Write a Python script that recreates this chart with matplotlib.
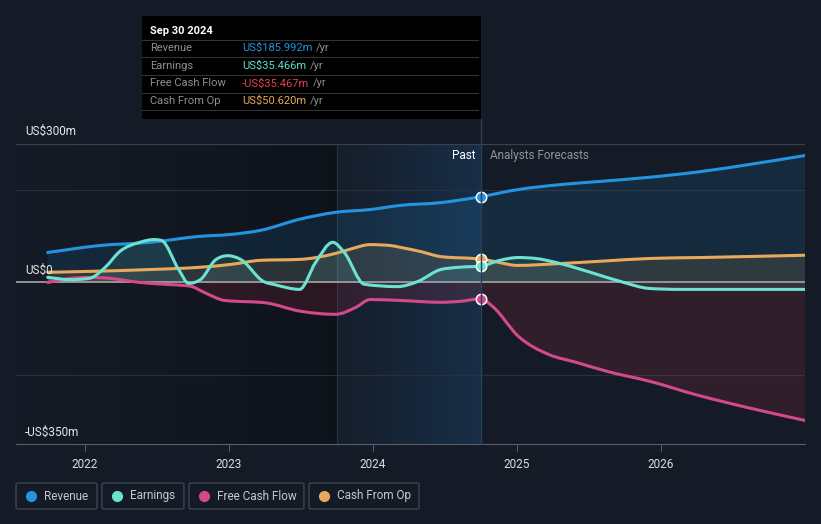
import numpy as np
import matplotlib.pyplot as plt
from matplotlib.patches import FancyBboxPatch, Rectangle, PathPatch
from matplotlib.path import Path
from matplotlib.lines import Line2D

plt.rcParams['font.family'] = ['Roboto', 'DejaVu Sans']

# data (US$m, dates as decimal years)
rev_t = [2021.74, 2022.10, 2022.45, 2022.80, 2023.01, 2023.22, 2023.49, 2023.74, 2023.98,
         2024.19, 2024.47, 2024.75, 2025.00, 2025.30, 2025.58, 2025.92, 2026.27, 2026.62, 2027.00]
rev_v = [65, 80, 87, 100, 104, 113, 137, 152, 158, 167, 173, 186, 201, 212, 219, 228, 240, 256, 275]

earn_t = [2021.74, 2021.90, 2022.03, 2022.14, 2022.24, 2022.38, 2022.48, 2022.53, 2022.65, 2022.72,
          2022.80, 2022.91, 2022.99, 2023.08, 2023.24, 2023.32, 2023.49, 2023.60, 2023.72, 2023.80,
          2023.94, 2024.17, 2024.31, 2024.47, 2024.60, 2024.75, 2024.88, 2025.01, 2025.13, 2025.30,
          2025.51, 2025.72, 2025.92, 2026.13, 2027.00]
earn_v = [11, 6, 9, 33, 67, 87, 93, 91, 28, -2,
          6, 50, 58, 50, 2, -5, -15, 43, 87, 65,
          -4, -9, 2, 28, 33, 35.5, 48, 54, 52, 41,
          22, 2, -13, -15, -15]

fcf_t = [2021.74, 2021.90, 2022.03, 2022.17, 2022.38, 2022.56, 2022.73, 2022.83, 2022.97, 2023.25,
         2023.49, 2023.74, 2023.88, 2023.98, 2024.19, 2024.47, 2024.60, 2024.75, 2024.83, 2025.01,
         2025.22, 2025.41, 2025.63, 2025.92, 2026.24, 2026.60, 2027.00]
fcf_v = [0, 9, 11, 9, 0, -4, -8, -22, -39, -44,
         -62, -69, -54, -37, -39, -43, -41, -35.5, -52, -117,
         -156, -173, -193, -214, -243, -271, -299]

cfo_t = [2021.74, 2022.03, 2022.45, 2022.80, 2023.01, 2023.22, 2023.49, 2023.74, 2023.84, 2023.98,
         2024.12, 2024.19, 2024.33, 2024.47, 2024.75, 2024.88, 2025.00, 2025.30, 2025.58, 2025.92,
         2026.27, 2027.00]
cfo_v = [22, 24, 28, 33, 39, 48, 50, 63, 72, 82,
         80, 76, 67, 56, 50.6, 43, 37, 41, 46, 52,
         54, 59]

years = [2022, 2023, 2024, 2025, 2026]
now = 2024.75

BG = '#151b26'
C_REV = '#2394df'
C_EARN = '#6be3d0'
C_FCF = '#d4498c'
C_CFO = '#e9a95a'

W, H = 821, 524


def fx(x):
    return x / W


def fy(y):
    return 1 - y / H


def monotone_path(t, v, close=False):
    # monotone cubic (like d3 curveMonotoneX) drawn as bezier segments
    x = np.asarray(t, float)
    y = np.asarray(v, float)
    h = np.diff(x)
    s = np.diff(y) / h
    m = np.zeros_like(y)
    m[0], m[-1] = s[0], s[-1]
    for i in range(1, len(y) - 1):
        if s[i - 1] * s[i] <= 0:
            m[i] = 0
        else:
            m[i] = (h[i - 1] + h[i]) * s[i - 1] * s[i] / (h[i] * s[i - 1] + h[i - 1] * s[i]) * 1.0
            # d3 style limited slope
            p = (s[i - 1] * h[i] + s[i] * h[i - 1]) / (h[i - 1] + h[i])
            m[i] = (np.sign(s[i - 1]) + np.sign(s[i])) * min(abs(s[i - 1]), abs(s[i]), 0.5 * abs(p))
    verts = [(x[0], y[0])]
    codes = [Path.MOVETO]
    for i in range(len(x) - 1):
        d = h[i] / 3
        verts += [(x[i] + d, y[i] + m[i] * d), (x[i + 1] - d, y[i + 1] - m[i + 1] * d), (x[i + 1], y[i + 1])]
        codes += [Path.CURVE4] * 3
    if close:
        verts += [(x[-1], 0), (x[0], 0), (x[0], y[0])]
        codes += [Path.LINETO, Path.LINETO, Path.CLOSEPOLY]
    return Path(verts, codes)


fig = plt.figure(figsize=(W / 100, H / 100), dpi=100)
fig.patch.set_facecolor(BG)
ax = fig.add_axes([16 / W, 80 / H, 789 / W, 300 / H])
ax.set_facecolor(BG)

# background shading
dark = np.zeros((1, 256, 4))
dark[..., 3] = np.linspace(0.0, 0.3, 256)
ax.imshow(dark, extent=[2021.52, 2023.75, -350, 300], aspect='auto', zorder=0)
past = np.zeros((1, 256, 4))
past[..., 0], past[..., 1], past[..., 2] = 0.11, 0.30, 0.48
past[..., 3] = np.linspace(0.05, 0.4, 256)
ax.imshow(past, extent=[2023.75, now, -350, 300], aspect='auto', zorder=0)

# grid
for v in [200, -200]:
    ax.axhline(v, color='#2a303b', lw=0.8, zorder=1)
ax.axhline(300, color='#3b414c', lw=0.9, zorder=1)
ax.axvline(2023.75, color='#22344a', lw=0.8, zorder=1)

series = [(rev_t, rev_v, C_REV, C_REV, 0.13, 5),
          (cfo_t, cfo_v, C_CFO, C_CFO, 0.12, 5),
          (earn_t, earn_v, C_EARN, C_EARN, 0.10, 6),
          (fcf_t, fcf_v, C_FCF, '#c0304a', 0.16, 5)]

# fills
for t, v, c, fc, a, z in series:
    ax.add_patch(PathPatch(monotone_path(t, v, close=True), facecolor=fc, alpha=a, lw=0, zorder=2))

ax.axhline(0, color='#9c9c9c', lw=1.3, zorder=3)

# lines
for t, v, c, fc, a, z in series:
    ax.add_patch(PathPatch(monotone_path(t, v), facecolor='none', edgecolor=c, lw=2.2, zorder=z,
                           capstyle='round', joinstyle='round'))

for t, v, c, fc, a, z in series:
    ax.plot(now, v[t.index(now)], 'o', ms=7.5, mfc=c, mec='white', mew=1.1, zorder=10)

ax.text(2024.71, 275, 'Past', color='white', fontsize=8.5, ha='right', va='center', zorder=11)
ax.text(2024.81, 275, 'Analysts Forecasts', color='#8f949c', fontsize=8.5, ha='left', va='center', zorder=11)

ax.set_xlim(2021.52, 2027.0)
ax.set_ylim(-350, 300)
for s in ['top', 'right', 'left']:
    ax.spines[s].set_visible(False)
ax.spines['bottom'].set_color('#5a606b')
ax.set_yticks([])
ax.set_xticks(years)
ax.set_xticklabels([str(y) for y in years])
ax.tick_params(axis='x', colors='#5a606b', labelcolor='#dcdcdc', labelsize=8.5, length=5, pad=5)

# y labels
fig.text(fx(25), fy(131), 'US$300m', color='#e6e6e6', fontsize=8.5, va='center')
fig.text(fx(25), fy(270), 'US$0', color='#e6e6e6', fontsize=8.5, va='center')
fig.text(fx(25), fy(432), '-US$350m', color='#e6e6e6', fontsize=8.5, va='center')

# vertical "now" line up to tooltip
fig.add_artist(Line2D([fx(481), fx(481)], [fy(119), fy(444)], color='#2a3e55', lw=1.0, zorder=4))

# tooltip
fig.add_artist(Rectangle((fx(142), fy(119)), 339 / W, 103 / H, transform=fig.transFigure,
                         facecolor='#000000', edgecolor='none', zorder=20))
fig.text(fx(150), fy(31), 'Sep 30 2024', color='white', fontsize=8, fontweight='bold', va='center', zorder=21)
rows = [('Revenue', 'US$185.992m', '#2394df'),
        ('Earnings', 'US$35.466m', '#5fe0cd'),
        ('Free Cash Flow', '-US$35.467m', '#e8414b'),
        ('Cash From Op', 'US$50.620m', '#e9a95a')]
renderer = fig.canvas.get_renderer()
for i, (lab, val, col) in enumerate(rows):
    y = 48 + i * 17.7
    fig.add_artist(Line2D([fx(142), fx(478)], [fy(y - 8.5), fy(y - 8.5)], color='#333333', lw=0.8, zorder=21))
    fig.text(fx(150), fy(y), lab, color='#8f8f8f', fontsize=8, va='center', zorder=21)
    t = fig.text(fx(242), fy(y), val, color=col, fontsize=8, va='center', zorder=21)
    bb = t.get_window_extent(renderer)
    fig.text(bb.x1 / W + 4 / W, fy(y), '/yr', color='#8f8f8f', fontsize=8, va='center', zorder=21)
fig.add_artist(Line2D([fx(142), fx(478)], [fy(110), fy(110)], color='#333333', lw=0.8, zorder=21))

# legend
items = [('Revenue', C_REV, 16, 97), ('Earnings', C_EARN, 102, 184),
         ('Free Cash Flow', C_FCF, 189, 304), ('Cash From Op', C_CFO, 309, 419)]
for lab, col, x0, x1 in items:
    fig.add_artist(FancyBboxPatch((fx(x0), fy(509)), (x1 - x0) / W, 26 / H, transform=fig.transFigure,
                                  boxstyle='round,pad=0,rounding_size=0.003', facecolor='none',
                                  edgecolor='#3e4450', lw=1.0))
    fig.add_artist(Line2D([fx(x0 + 15)], [fy(496)], marker='o', ms=7, color=col, mec=col, lw=0))
    fig.text(fx(x0 + 28), fy(496), lab, color='#c8c8c8', fontsize=8.5, va='center')

fig.savefig('out.png', dpi=100, facecolor=BG)
